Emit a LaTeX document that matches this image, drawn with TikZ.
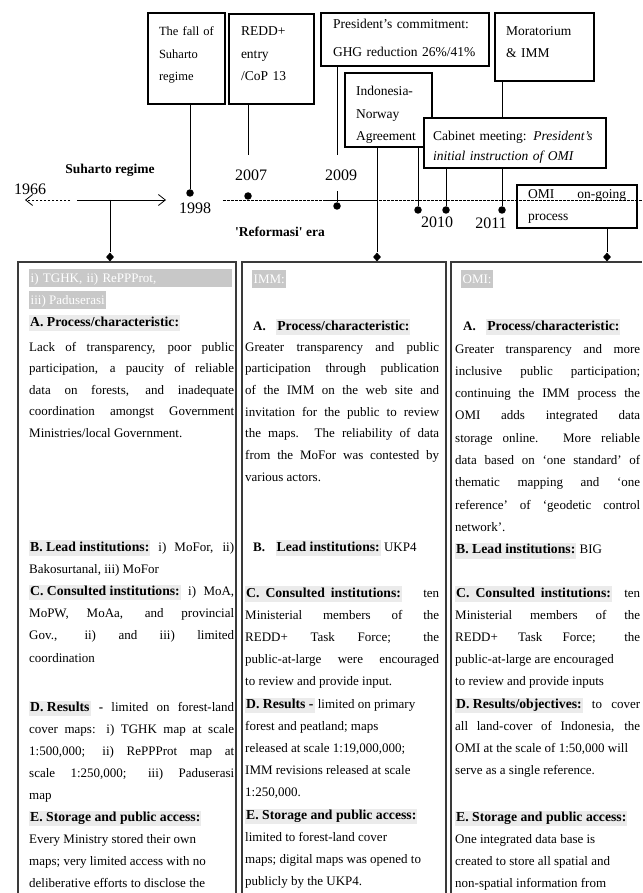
\documentclass[tikz,border=0pt]{standalone}
\usepackage{fontspec}
\setmainfont{Liberation Serif}
\usetikzlibrary{arrows.meta,shapes.geometric}
\definecolor{hdGray}{HTML}{EBEBEB}
\definecolor{ttlGray}{HTML}{C8C8C8}
\definecolor{boxLine}{HTML}{3A3A3A}
\newcommand{\hd}[1]{{\setlength{\fboxsep}{1pt}\colorbox{hdGray}{\rule[-4pt]{0pt}{13.5pt}\fontsize{13.7}{16}\selectfont\bfseries #1}}}
\hyphenpenalty=10000
\exhyphenpenalty=10000
\tolerance=10000
\tikzset{
    >=Latex,
    event/.style={draw, fill=white, line width=1.6pt, anchor=north west, align=left, inner ysep=0pt, outer sep=0pt, font=\fontsize{13.5}{22.5}\selectfont},
    yr/.style={inner sep=0pt, font=\fontsize{16}{16}\selectfont},
    era/.style={inner sep=0pt, font=\fontsize{13.5}{14}\selectfont\bfseries},
    ydot/.style={circle, fill, inner sep=0pt, minimum size=7.5pt},
    dmd/.style={diamond, fill, inner sep=0pt, minimum width=8pt, minimum height=9pt},
    stem/.style={line width=0.8pt},
    col/.style={line width=1.1pt, draw=boxLine},
    coltext/.style={anchor=base west, inner sep=0pt, align=justify, font=\fontsize{13}{21.7}\selectfont},
    colhead/.style={anchor=base west, inner sep=0pt, font=\fontsize{13}{16}\selectfont},
    ttl/.style={anchor=base west, fill=ttlGray, text=white, inner xsep=1.5pt, inner ysep=0pt, text height=13.5pt, text depth=4.5pt, font=\fontsize{13}{16}\selectfont},
    dashline/.style={line width=0.8pt, dash pattern=on 2.5pt off 1.5pt},
    tlarrow/.style={line width=0.8pt, -{Straight Barb[length=7pt,width=11pt]}}
}

\begin{document}
\begin{tikzpicture}[x=1pt, y=-1pt]
\useasboundingbox (0,0) rectangle (642,893);

% event boxes
\node[event, inner xsep=11pt, text width=55pt, text height=23pt, text depth=68pt, font=\fontsize{12.5}{22.5}\selectfont] (fall) at (148,13) {The fall of\\ Suharto\\ regime};
\node[event, inner xsep=12pt, text width=61pt, text height=22pt, text depth=68pt] (redd) at (229,14) {REDD+\\ entry\\ /CoP 13};
\node[event, inner xsep=12pt, text width=144pt, text height=16pt, text depth=37pt, font=\fontsize{13.5}{28}\selectfont] (pres) at (321,13) {President's commitment:\\ GHG reduction 26\%/41\%};
\node[event, inner xsep=11pt, text width=65pt, text height=23pt, text depth=51pt] (norway) at (345,73) {Indonesia-\\ Norway\\ Agreement};
\node[event, inner xsep=11pt, text width=77pt, text height=23pt, text depth=45pt, font=\fontsize{13.5}{22}\selectfont] (morat) at (495,13) {Moratorium\\ \& IMM};
\node[event, inner xsep=9pt, text width=164pt, text height=23pt, text depth=27pt, font=\fontsize{13.5}{20}\selectfont] (cabinet) at (424,118) {Cabinet meeting: \textit{President's}\\ \textit{initial instruction of OMI}};
\node[event, inner xsep=11pt, text width=98pt, text height=14pt, text depth=29pt, align=justify, font=\fontsize{13.5}{22}\selectfont] (omi) at (517,185) {OMI on-going\linebreak process};

% timeline
\node[yr] (y1966) at (30,189) {1966};
\node[era] (suh) at (110,170) {Suharto regime};
\node[yr] (y1998) at (195,208) {1998};
\node[yr] (y2007) at (251,175) {2007};
\node[yr] (y2009) at (341,175) {2009};
\node[yr] (y2010) at (437,222) {2010};
\node[yr] (y2011) at (491,223) {2011};
\node[era] (refo) at (280,232) {\textquotesingle Reformasi\textquotesingle\ era};

\coordinate (a0) at (70,200);
\coordinate (a1) at (25,200);
\coordinate (b0) at (77,200);
\coordinate (b1) at (166,200);
\coordinate (c0) at (223,200);
\coordinate (c1) at (642,200);
\coordinate (s0) at (325,200);
\coordinate (s1) at (377,200);
\coordinate (t2007) at (248,155);
\coordinate (t2009) at (337,155);
\draw[dashline, -{Straight Barb[length=7pt,width=11pt]}] (a0) -- (a1);
\draw[tlarrow] (b0) -- (b1);
\draw[dashline] (c0) -- (c1);
\draw[stem] (s0) -- (s1);

\node[ydot] (d1998) at (190,193) {};
\node[ydot] (d2007) at (248,196) {};
\node[ydot] (d2009) at (337,206) {};
\node[ydot] (d2010a) at (418,210) {};
\node[ydot] (d2010b) at (446,210) {};
\node[ydot] (d2011) at (502,210) {};

\node[dmd] (m1) at (110,257) {};
\node[dmd] (m2) at (377,257) {};
\node[dmd] (m3) at (607,257) {};

\draw[stem] (fall.south -| d1998) -- (d1998);
\draw[stem] (redd.south -| t2007) -- (t2007);
\draw[stem] (pres.south -| t2009) -- (t2009);
\draw[stem] (d2009) -- ++(0,-15);
\draw[stem] (norway.south -| m2) -- (m2);
\draw[stem] (norway.south -| d2010a) -- (d2010a);
\draw[stem] (morat.south -| d2011) -- (cabinet.north -| d2011);
\draw[stem] (cabinet.south -| d2010b) -- (d2010b);
\draw[stem] (cabinet.south -| d2011) -- (d2011);
\draw[stem] (omi.south -| m3) -- (m3);
\draw[stem] (m1 |- b0) -- (m1);

% columns
\draw[col] (18,893) -- (18,262) -- (236,262) -- (236,893);
\draw[col] (242,893) -- (242,262) -- (446,262) -- (446,893);
\draw[col] (451,893) -- (451,262) -- (642,262);

% left column
\node[ttl, text width=200pt, align=left] (lt1) at (29,282) {i) TGHK, ii) RePPProt,};
\node[ttl] (lt2) at (29,304) {iii) Paduserasi};
\node[colhead] (lah) at (29,326) {\hd{A. Process/characteristic:}};
\node[coltext, text width=205pt, font=\fontsize{13}{21.5}\selectfont] (lab) at (29,351) {Lack of transparency, poor public\linebreak participation, a paucity of reliable\linebreak data on forests, and inadequate\linebreak coordination amongst Government\linebreak Ministries/local Government.};
\node[coltext, text width=205pt, font=\fontsize{13}{22.2}\selectfont] (lbc) at (29,551) {\hd{B. Lead institutions:} i) MoFor, ii)\linebreak Bakosurtanal, iii) MoFor\newline \hd{C. Consulted institutions:} i) MoA,\linebreak MoPW, MoAa, and provincial\linebreak Gov., ii) and iii) limited\linebreak coordination};
\node[coltext, text width=205pt, font=\fontsize{13}{22}\selectfont] (lde) at (29,711) {\hd{D. Results} \textbf{-} limited on forest-land\linebreak cover maps: i) TGHK map at scale\linebreak 1:500,000; ii) RePPProt map at\linebreak scale 1:250,000; iii) Paduserasi\linebreak map\newline \hd{E. Storage and public access:}\newline Every Ministry stored their own\newline maps; very limited access with no\newline deliberative efforts to disclose the};

% middle column
\node[ttl] (mt) at (252,283) {IMM:};
\node[colhead] (mah) at (253,330) {\textbf{A.}\hspace{10.5pt}\hd{Process/characteristic:}};
\node[coltext, text width=194pt] (mab) at (245,351) {Greater transparency and public\linebreak participation through publication\linebreak of the IMM on the web site and\linebreak invitation for the public to review\linebreak the maps. The reliability of data\linebreak from the MoFor was contested by\linebreak various actors.};
\node[colhead] (mbh) at (253,551) {\textbf{B.}\hspace{10.5pt}\hd{Lead institutions:} UKP4};
\node[coltext, text width=194pt, font=\fontsize{13}{22.2}\selectfont] (mce) at (245,597) {\hd{C.\hspace{6pt}Consulted\hspace{6pt}institutions:} ten\linebreak Ministerial members of the\linebreak REDD+ Task Force; the\linebreak public-at-large were encouraged\linebreak to review and provide input.\newline \hd{D. Results -} limited on primary\newline forest and peatland; maps\newline released at scale 1:19,000,000;\newline IMM revisions released at scale\newline 1:250,000.\newline \hd{E. Storage and public access:}\newline limited to forest-land cover\newline maps; digital maps was opened to\newline publicly by the UKP4.};

% right column
\node[ttl] (rt) at (461,283) {OMI:};
\node[colhead] (rah) at (463,330) {\textbf{A.}\hspace{10.5pt}\hd{Process/characteristic:}};
\node[coltext, text width=185pt, font=\fontsize{13}{22.3}\selectfont] (rab) at (455,353) {Greater transparency and more\linebreak inclusive public participation;\linebreak continuing the IMM process the\linebreak OMI adds integrated data\linebreak storage online. More reliable\linebreak data based on `one standard' of\linebreak thematic mapping and `one\linebreak reference' of `geodetic control\linebreak network'.\newline \hd{B. Lead institutions:} BIG};
\node[coltext, text width=185pt, font=\fontsize{13}{22.2}\selectfont] (rcd) at (455,597) {\hd{C.\hspace{6pt}Consulted\hspace{6pt}institutions:} ten\linebreak Ministerial members of the\linebreak REDD+ Task Force; the\linebreak public-at-large are encouraged\newline to review and provide inputs\newline \hd{D. Results/objectives:} to cover\linebreak all land-cover of Indonesia, the\linebreak OMI at the scale of 1:50,000 will\newline serve as a single reference.};
\node[coltext, text width=185pt, font=\fontsize{13}{22}\selectfont] (re) at (455,821) {\hd{E. Storage and public access:}\newline One integrated data base is\newline created to store all spatial and\newline non-spatial information from};
\end{tikzpicture}
\end{document}
